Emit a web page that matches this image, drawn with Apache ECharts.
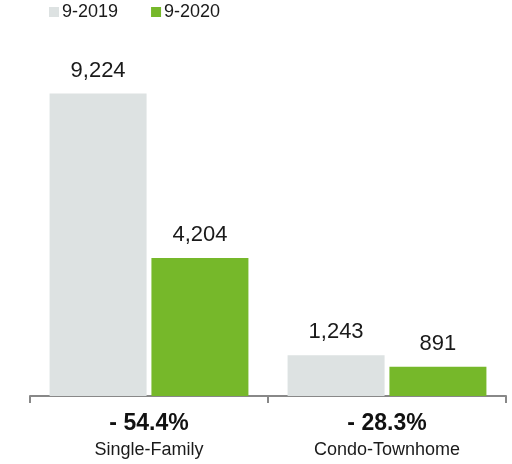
<!DOCTYPE html>
<html><head><meta charset="utf-8">
<script src="https://cdn.jsdelivr.net/npm/echarts@6/dist/echarts.min.js"></script>
<style>html,body{margin:0;padding:0;background:#fff}#c{width:512px;height:464px}</style>
</head><body><div id="c"></div>
<script>
const categories = ['Single-Family', 'Condo-Townhome'];
const changes = ['- 54.4%', '- 28.3%'];
const seriesNames = ['9-2019', '9-2020'];
const values2019 = [9224, 1243];
const values2020 = [4204, 891];
const colors = ['#dde2e2', '#76b82a'];

const chart = echarts.init(document.getElementById('c'));
const font = 'Liberation Sans, Arial, Helvetica, sans-serif';
const labelCfg = {
  show: true, position: 'top', distance: 12, color: '#1a1a1a', fontSize: 22, fontFamily: font,
  formatter: p => p.value.toLocaleString('en-US')
};
chart.setOption({
  animation: false,
  textStyle: { fontFamily: font },
  legend: {
    left: 49, top: 3, padding: 0, itemWidth: 10, itemHeight: 10, itemGap: 33, icon: 'rect',
    textStyle: { fontSize: 18, color: '#1a1a1a', fontFamily: font, padding: [0, 0, 0, -2] },
    data: seriesNames
  },
  grid: { left: 30, right: 6, top: 68, bottom: 68 },
  xAxis: {
    type: 'category', data: categories,
    axisLine: { lineStyle: { color: '#888', width: 2 } },
    axisTick: { show: true, length: 7, lineStyle: { color: '#888', width: 2 } },
    axisLabel: {
      margin: 14,
      formatter: (v, i) => '{b|' + changes[i] + '}\n{n|' + v + '}',
      rich: {
        b: { fontSize: 23, fontWeight: 'bold', color: '#111', fontFamily: font, lineHeight: 28 },
        n: { fontSize: 18, color: '#1a1a1a', fontFamily: font, lineHeight: 24 }
      }
    }
  },
  yAxis: { type: 'value', min: 0, max: 10000, show: false, splitLine: { show: false } },
  series: [
    { name: seriesNames[0], type: 'bar', data: values2019, barWidth: 97, barGap: '5%', itemStyle: { color: colors[0] }, label: labelCfg },
    { name: seriesNames[1], type: 'bar', data: values2020, barWidth: 97, itemStyle: { color: colors[1] }, label: labelCfg }
  ]
});
</script></body></html>
